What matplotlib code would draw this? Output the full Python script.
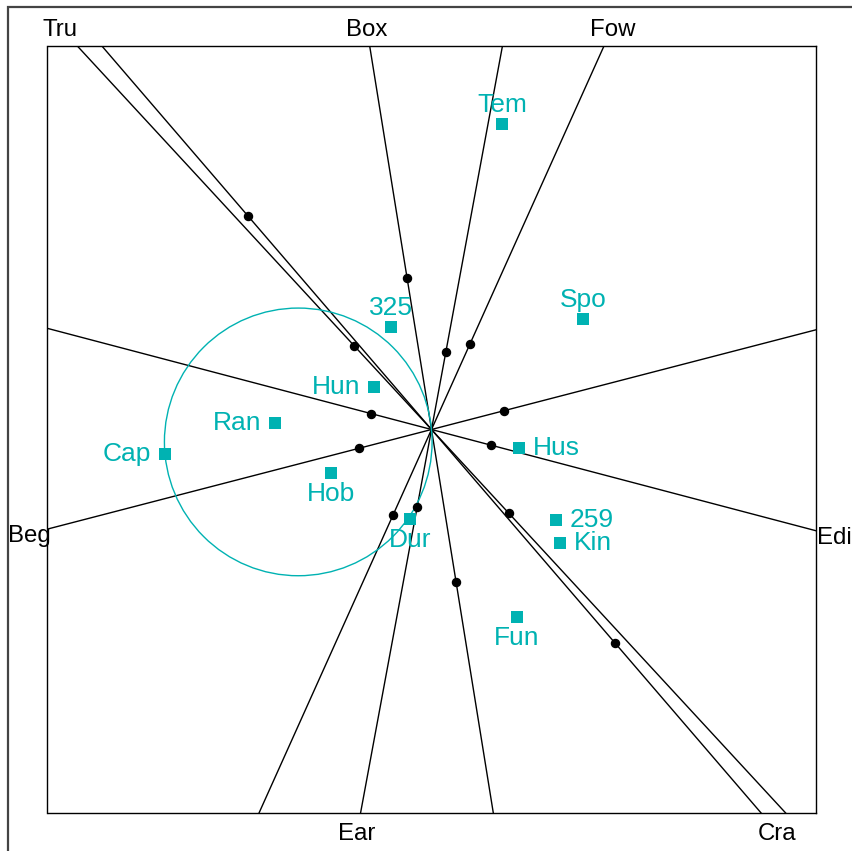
import numpy as np
import matplotlib
matplotlib.use("Agg")
import matplotlib.pyplot as plt
from matplotlib.patches import Circle, Rectangle

plt.rcParams['font.family'] = ['Liberation Sans', 'DejaVu Sans']

# Environment (variable) vectors
var_names = ["Tru", "Box", "Fow", "Beg", "Edi", "Ear", "Cra"]
var_x = [-0.773, -0.245, 0.385, -0.725, 0.600, -0.143, 1.835]
var_y = [0.837, 1.520, 0.856, -0.188, -0.158, -0.773, -2.135]

# Genotype scores
gen_names = ["Tem", "Spo", "325", "Hun", "Ran", "Cap", "Hob", "Dur", "Hus", "259", "Kin", "Fun"]
gen_x = [0.705, 1.515, -0.405, -0.575, -1.565, -2.665, -1.008, -0.215, 0.875, 1.245, 1.285, 0.855]
gen_y = [3.055, 1.108, 1.028, 0.422, 0.068, -0.248, -0.432, -0.898, -0.182, -0.905, -1.135, -1.875]
# label side: 1 below, 2 left, 3 above, 4 right
gen_pos = [3, 3, 3, 2, 2, 2, 1, 1, 4, 4, 4, 1]

focus = "Cap"

xlim = (-3.84, 3.845)
ylim = (-3.835, 3.84)

teal = "#00B2B2"

W, H = 853, 851
fig = plt.figure(figsize=(W / 100, H / 100), dpi=100)
ax = fig.add_axes([47.5 / W, (H - 813) / H, (816 - 47.5) / W, (813 - 45.5) / H])
ax.set_xlim(*xlim)
ax.set_ylim(*ylim)
ax.set_xticks([])
ax.set_yticks([])
for s in ax.spines.values():
    s.set_linewidth(1.0)
    s.set_color("black")

# outer frame
fig.add_artist(Rectangle((8 / W, -1), 2, 1 - 7 / H + 1, transform=fig.transFigure,
                         fill=False, edgecolor="#444444", linewidth=1.6))

# variable axes through the origin with unit markers at +/- vector
pad = 0.185
for name, vx, vy in zip(var_names, var_x, var_y):
    ax.axline((0, 0), (vx, vy), color="black", linewidth=1.0, zorder=2)
    ax.plot([vx, -vx], [vy, -vy], "o", color="black", markersize=5.8, zorder=3)
    ts = []
    if vx > 0:
        ts.append((xlim[1] + pad) / vx)
    elif vx < 0:
        ts.append((xlim[0] - pad) / vx)
    if vy > 0:
        ts.append((ylim[1] + pad) / vy)
    elif vy < 0:
        ts.append((ylim[0] - pad) / vy)
    t = min(ts)
    ax.annotate(name, (t * vx, t * vy), xytext=(0, -8.5), textcoords="offset pixels",
                ha="center", va="baseline", fontsize=17.3, color="black",
                annotation_clip=False)

# circle with diameter from origin to the focus genotype
i = gen_names.index(focus)
cx, cy = gen_x[i] / 2, gen_y[i] / 2
ax.add_patch(Circle((cx, cy), np.hypot(cx, cy), fill=False, edgecolor=teal,
                    linewidth=1.0, zorder=2.5))

# genotypes
ax.plot(gen_x, gen_y, "s", color=teal, markersize=8.6, markeredgewidth=0, zorder=4)
offsets = {1: ((0, -28), "center"), 2: ((-14, -7), "right"),
           3: ((0, 12), "center"), 4: ((14, -7), "left")}
for name, gx, gy, p in zip(gen_names, gen_x, gen_y, gen_pos):
    off, ha = offsets[p]
    ax.annotate(name, (gx, gy), xytext=off, textcoords="offset pixels",
                ha=ha, va="baseline", fontsize=19, color=teal, zorder=5)

fig.savefig("out.png", dpi=100)
